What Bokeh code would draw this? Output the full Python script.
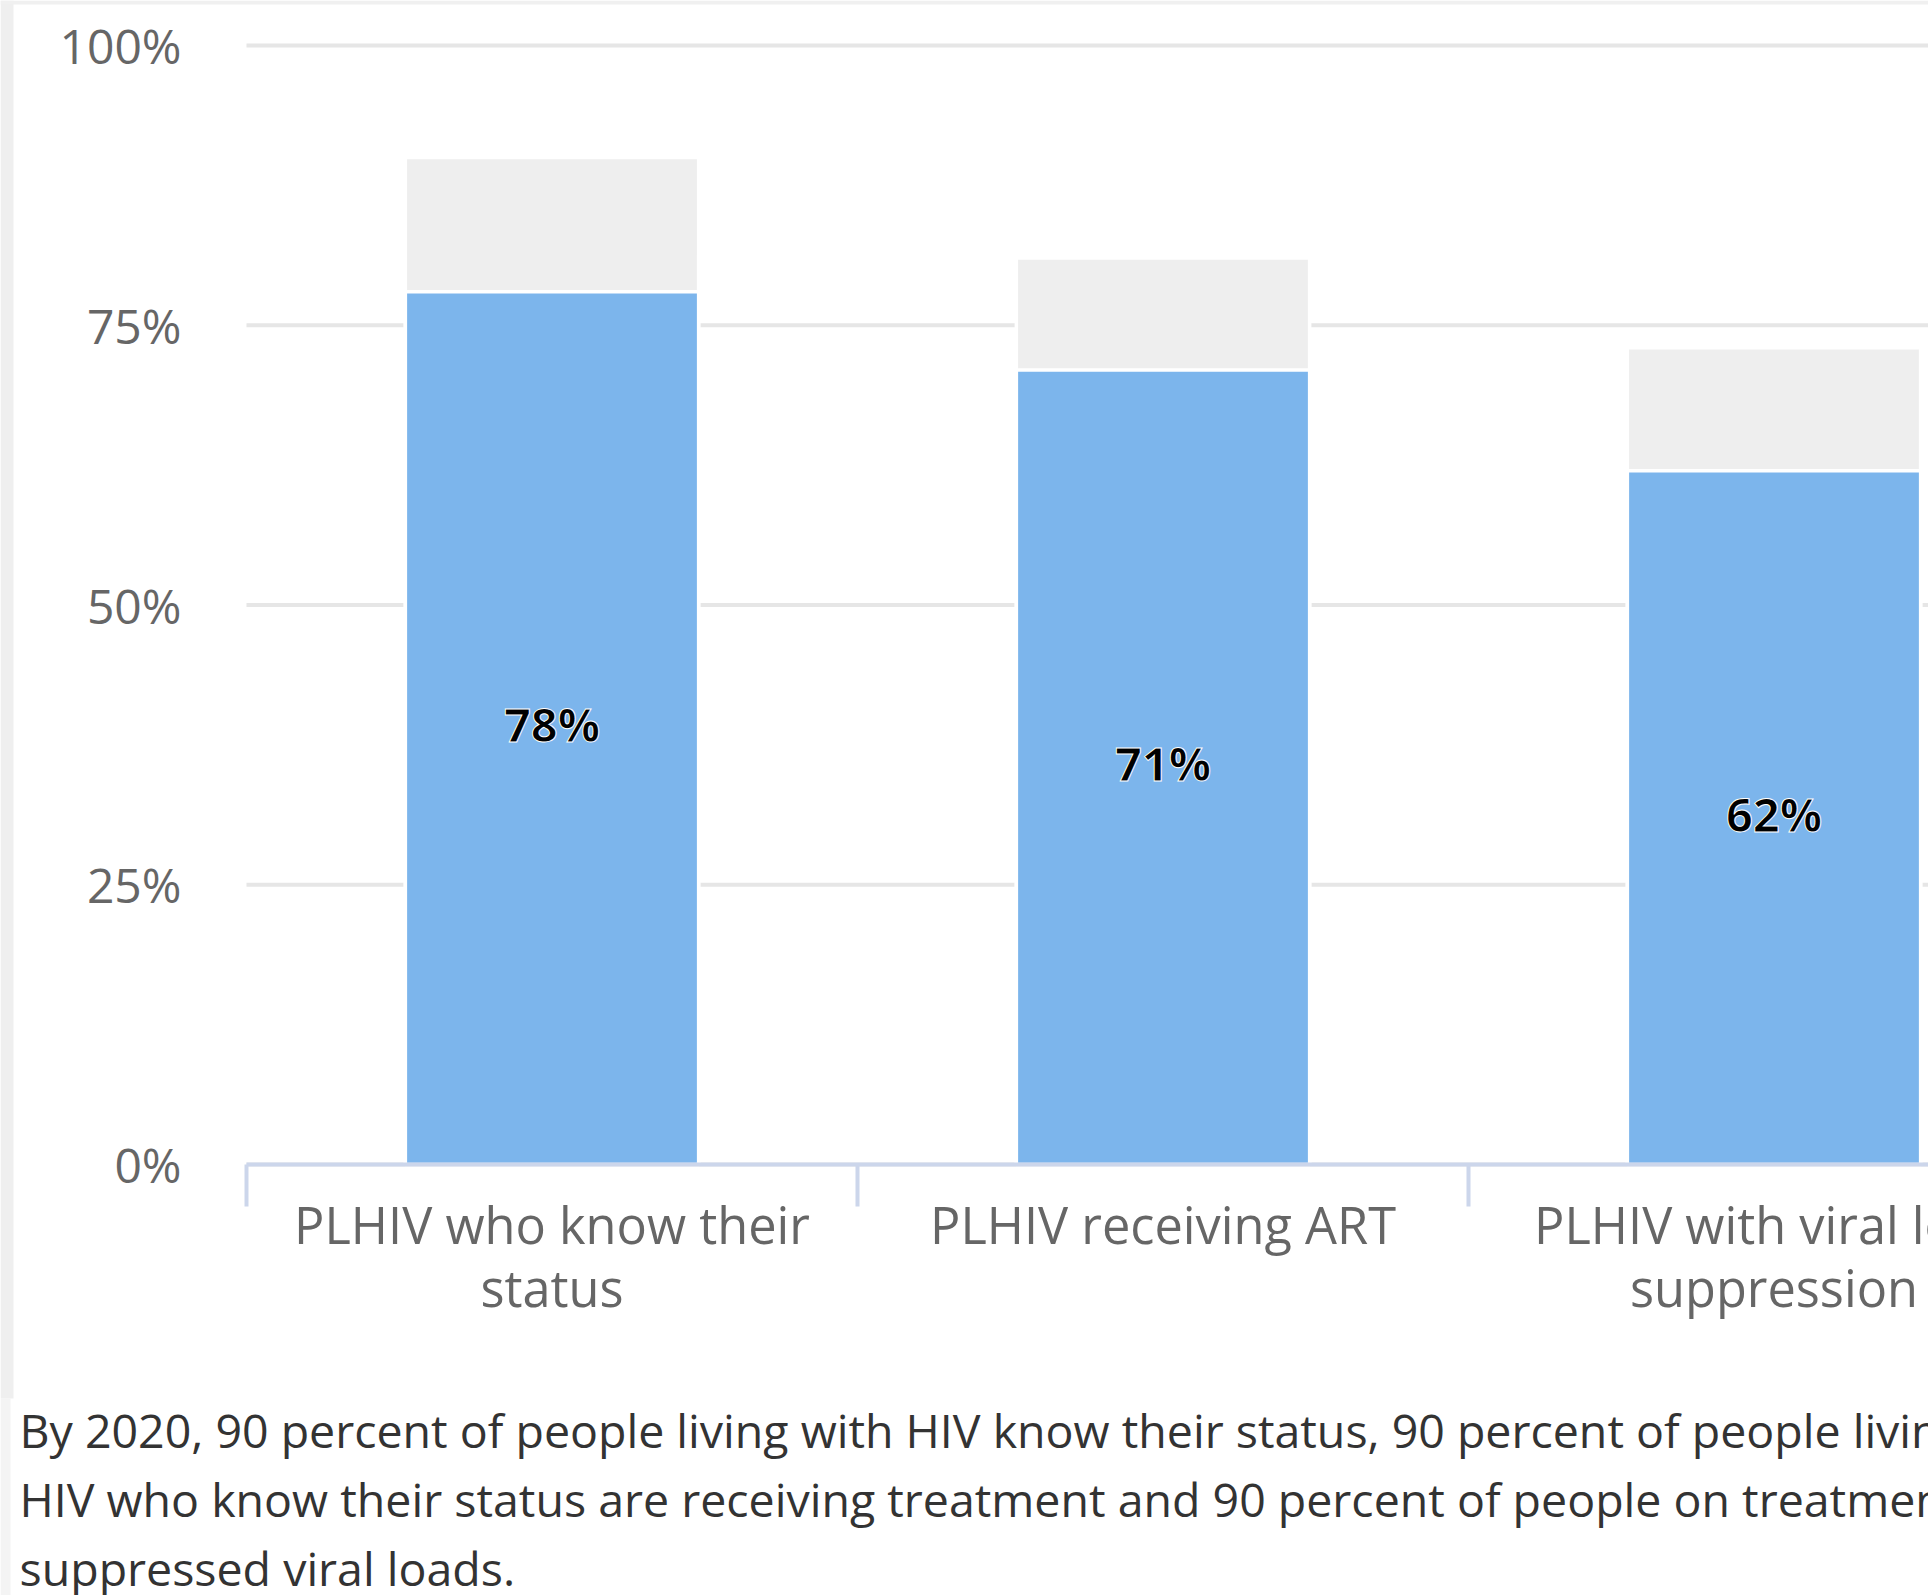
from bokeh.plotting import figure
from bokeh.models import Range1d, FixedTicker, LinearAxis, Text, BoxAnnotation
from bokeh.core.properties import value
from bokeh.embed import file_html
from bokeh.resources import INLINE

# ---------------- data ----------------
categories = [
    "PLHIV who know their\nstatus",
    "PLHIV receiving ART",
    "PLHIV with viral load\nsuppression",
]
achieved = [78, 71, 62]
targets = [90, 81, 73]
value_labels = ["78%", "71%", "62%"]
y_ticks = [0, 25, 50, 75, 100]
y_tick_labels = ["0%", "25%", "50%", "75%", "100%"]
caption_lines = [
    "By 2020, 90 percent of people living with HIV know their status, 90 percent of people living with",
    "HIV who know their status are receiving treatment and 90 percent of people on treatment have",
    "suppressed viral loads.",
]

# ---------------- layout (page pixels) ----------------
W, H = 1928, 1595
x0_px, unit_x = 246, 611.0          # left edge of first category, px per category
y0_px, y100_px = 1164, 45           # px of 0% and 100%
unit_y = (y0_px - y100_px) / 100.0
baseline_fix = -21                  # empirical shift for alphabetic baselines


def px_to_x(px):
    return (px - x0_px) / unit_x


def px_to_y(py):
    return (y0_px - py) / unit_y


x_start, x_end = px_to_x(0), px_to_x(W)
y_start, y_end = px_to_y(H), px_to_y(0)
p = figure(
    width=W, height=H,
    x_range=Range1d(x_start, x_end), y_range=Range1d(y_start, y_end),
    output_backend="svg", toolbar_location=None,
    x_axis_location=None, y_axis_location=None,
    min_border=0, min_border_left=0, min_border_right=0,
    min_border_top=0, min_border_bottom=0,
)
p.outline_line_color = None
p.background_fill_color = "white"
p.border_fill_color = "white"
for g in p.grid:
    g.visible = False

# light-grey page frame seen at the left and top edges of the screenshot
p.add_layout(BoxAnnotation(left=x_start, right=px_to_x(13), top=y_end, bottom=px_to_y(1398),
                           fill_color="#efefef", fill_alpha=1, line_color=None, level="underlay"))
p.add_layout(BoxAnnotation(left=x_start, right=px_to_x(10), top=px_to_y(1398), bottom=y_start,
                           fill_color="#f4f4f4", fill_alpha=1, line_color=None, level="underlay"))
p.add_layout(BoxAnnotation(left=x_start, right=x_end, top=y_end, bottom=px_to_y(4),
                           fill_color="#f0f0f0", fill_alpha=1, line_color=None, level="underlay"))

xs = [i + 0.5 for i in range(len(categories))]
n_cat = len(categories)

# horizontal grid lines (from the plot's left edge to the right)
p.segment(x0=[0] * len(y_ticks), x1=[x_end] * len(y_ticks), y0=y_ticks, y1=y_ticks,
          line_color="#e6e6e6", line_width=4)

# bars
p.vbar(x=xs, top=targets, bottom=0, width=0.48,
       fill_color="#eeeeee", line_color="white", line_width=3.5)
p.vbar(x=xs, top=achieved, bottom=0, width=0.48,
       fill_color="#7cb5ec", line_color="white", line_width=3.5)

# data labels
kw = {}
if "text_outline_color" in Text.properties():
    kw["text_outline_color"] = "white"
p.text(x=xs, y=[a / 2 for a in achieved], text=value_labels, y_offset=-4,
       text_font=value("Open Sans"), text_font_style="bold",
       text_font_size="47px", text_color="black",
       text_align="center", text_baseline="middle", **kw)

# y axis
ya = LinearAxis(fixed_location=0)
ya.ticker = FixedTicker(ticks=y_ticks)
ya.major_label_overrides = {t: l for t, l in zip(y_ticks, y_tick_labels)}
ya.axis_line_color = None
ya.major_tick_line_color = None
ya.minor_tick_line_color = None
ya.major_tick_out = 0
ya.major_tick_in = 0
ya.major_label_standoff = 65
ya.major_label_text_font = "Open Sans"
ya.major_label_text_font_size = "48px"
ya.major_label_text_color = "#666666"
p.add_layout(ya, "left")

# x axis: line + category boundary ticks
xa = LinearAxis(fixed_location=0, bounds=(0, x_end))
xa.ticker = FixedTicker(ticks=[], minor_ticks=[float(i) for i in range(n_cat + 1)])
xa.axis_line_color = "#ccd6eb"
xa.axis_line_width = 4
xa.major_tick_line_color = None
xa.major_label_text_font_size = "0px"
xa.minor_tick_line_color = "#ccd6eb"
xa.minor_tick_line_width = 4
xa.minor_tick_out = 42
xa.minor_tick_in = 0
p.add_layout(xa, "below")

# category labels (one row per wrapped line)
first_baseline_px, line_step_px = 1245 + baseline_fix, 63
max_lines = max(len(c.split("\n")) for c in categories)
for k in range(max_lines):
    lx, lt = [], []
    for x, c in zip(xs, categories):
        parts = c.split("\n")
        if k < len(parts):
            lx.append(x)
            lt.append(parts[k])
    p.text(x=lx, y=[px_to_y(first_baseline_px + k * line_step_px)] * len(lx), text=lt,
           text_font=value("Open Sans"), text_font_size="50.5px", text_color="#666666",
           text_align="center", text_baseline="alphabetic")

# caption
baselines_px = [1450 + baseline_fix, 1519 + baseline_fix, 1588 + baseline_fix]
p.text(x=[px_to_x(19)] * len(caption_lines), y=[px_to_y(b) for b in baselines_px],
       text=caption_lines, text_font=value("Open Sans"), text_font_size="46.5px",
       text_color="#333333", text_align="left", text_baseline="alphabetic")

open("out.html", "w").write(file_html(p, INLINE))
